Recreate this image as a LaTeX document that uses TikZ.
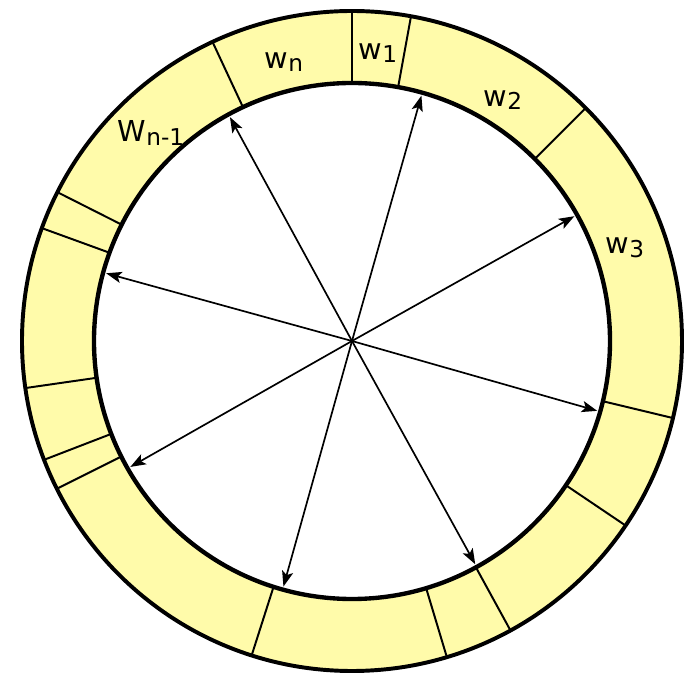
\documentclass[tikz,border=0pt]{standalone}
\usepackage{fontspec}
\setmainfont{DejaVu Sans}
\usetikzlibrary{arrows.meta}
\definecolor{ringfill}{RGB}{255,251,170}
\newcommand{\wlab}[2]{{\fontsize{20.5}{20.5}\selectfont #1}\raisebox{-0.45ex}{\fontsize{16.5}{16.5}\selectfont #2}}

\begin{document}
\begin{tikzpicture}[x=0.025cm,y=0.025cm,
  divider/.style={line width=1.4pt},
  ptr/.style={line width=1.2pt,-{Stealth[length=11pt,width=8pt,inset=2.5pt]}},
  wlabel/.style={inner sep=0pt}]
\useasboundingbox (-352,-335) rectangle (332,341);
\coordinate (o) at (0,0);
\fill[ringfill,even odd rule] (o) circle (330) (o) circle (258);
% segment borders
\draw[divider] (90:258) -- (90:330);
\draw[divider] (79.7:258) -- (79.7:330);
\draw[divider] (115.0:258) -- (115.0:330);
\draw[divider] (44.9:258) -- (44.9:330);
\draw[divider] (153.2:258) -- (153.2:330);
\draw[divider] (160.0:258) -- (160.0:330);
\draw[divider] (188.2:258) -- (188.2:330);
\draw[divider] (201.1:258) -- (201.1:330);
\draw[divider] (206.6:258) -- (206.6:330);
\draw[divider] (252.3:258) -- (252.3:330);
\draw[divider] (286.7:258) -- (286.7:330);
\draw[divider] (298.7:258) -- (298.7:330);
\draw[divider] (326.0:258) -- (326.0:330);
\draw[divider] (346.5:258) -- (346.5:330);
\draw[line width=2.8pt] (o) circle (330);
\draw[line width=3.1pt] (o) circle (258);
% pointers
\coordinate (p1) at (118.6:255);
\coordinate (p2) at (74.2:255);
\coordinate (p3) at (29.3:255);
\coordinate (p4) at (164.6:255);
\coordinate (p5) at (344.1:255);
\coordinate (p6) at (209.6:255);
\coordinate (p7) at (254.4:255);
\coordinate (p8) at (298.9:255);
\draw[ptr] (o) -- (p1);
\draw[ptr] (o) -- (p2);
\draw[ptr] (o) -- (p3);
\draw[ptr] (o) -- (p4);
\draw[ptr] (o) -- (p5);
\draw[ptr] (o) -- (p6);
\draw[ptr] (o) -- (p7);
\draw[ptr] (o) -- (p8);
% labels
\node[wlabel] (wn) at (-68,279) {\wlab{w}{n}};
\node[wlabel] (wone) at (26,288) {\wlab{w}{1}};
\node[wlabel] (wtwo) at (151,241) {\wlab{w}{2}};
\node[wlabel] (wthree) at (273,93) {\wlab{w}{3}};
\node[wlabel] (wnm) at (-201,208) {\wlab{W}{n-1}};
\end{tikzpicture}
\end{document}
